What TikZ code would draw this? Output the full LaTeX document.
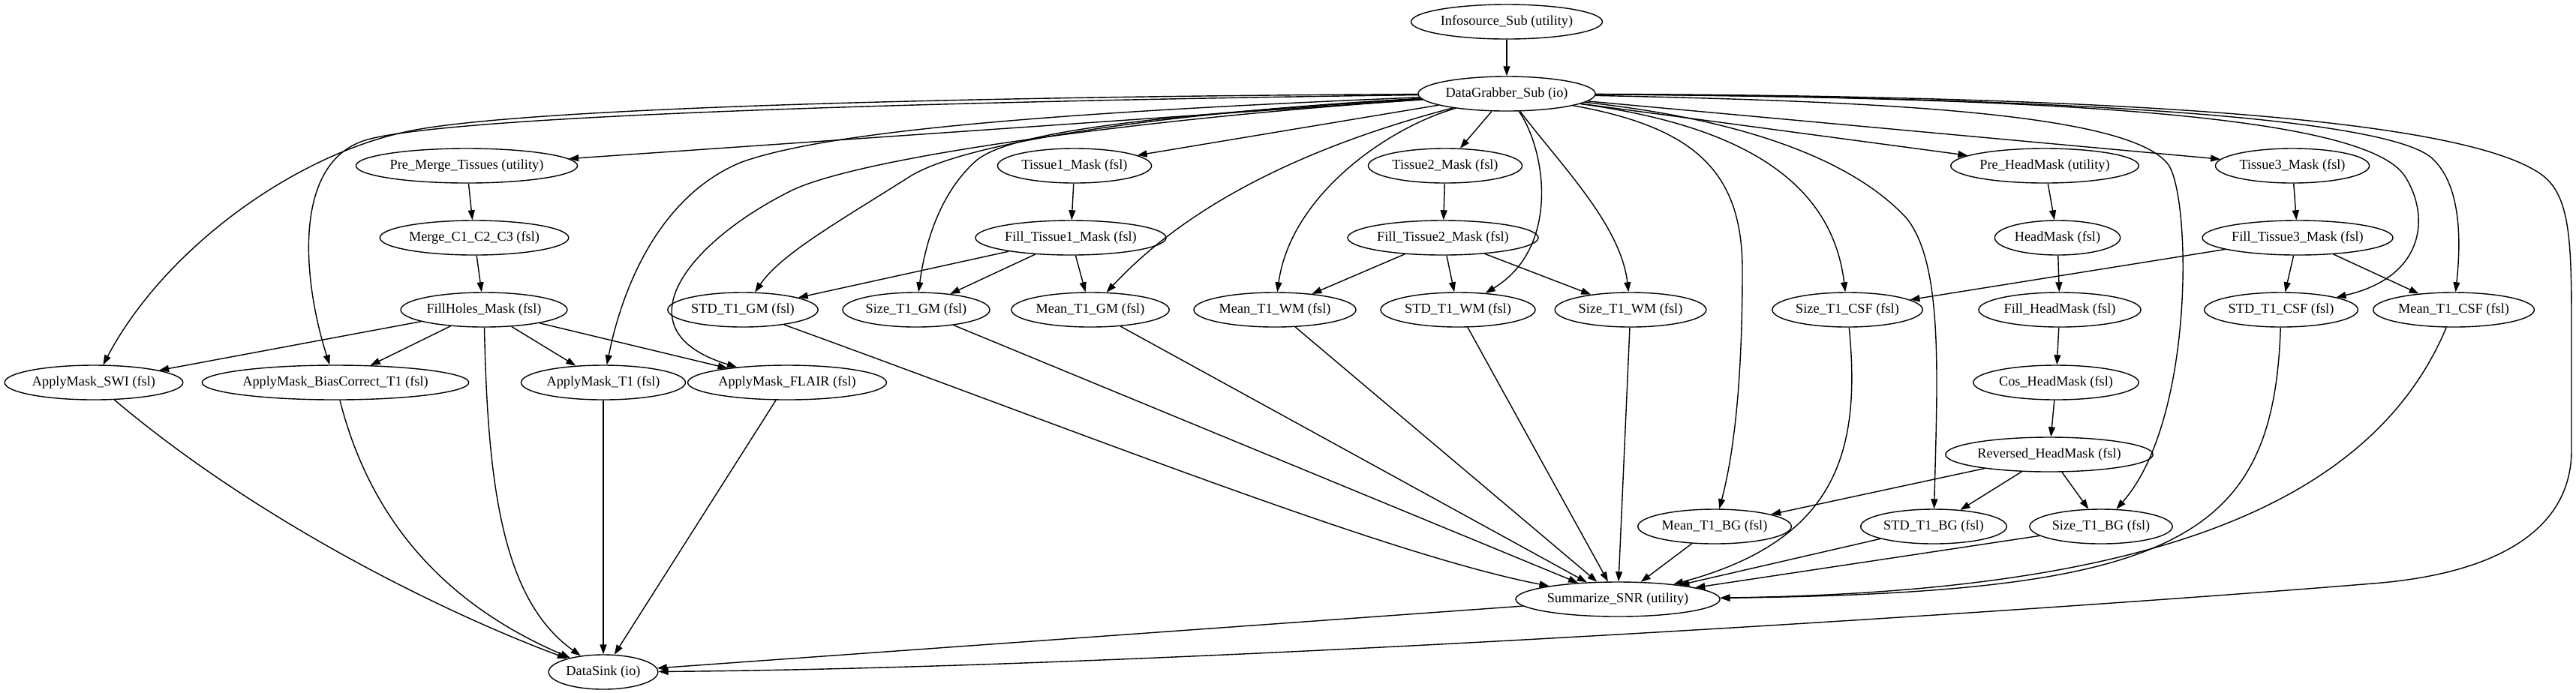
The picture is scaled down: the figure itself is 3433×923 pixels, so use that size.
\documentclass[tikz,border=0pt]{standalone}
\usepackage{fontspec}
\setmainfont{Liberation Serif}
\usetikzlibrary{arrows.meta,shapes.geometric}
\tikzset{
  proc/.style={draw, ellipse, line width=0.4pt, font=\fontsize{5.2}{6.2}\selectfont, minimum height=0.46cm, inner xsep=0.02cm, inner ysep=0pt},
  arr/.style={-{Triangle[length=0.13cm, width=0.09cm]}, line width=0.4pt}}

\begin{document}
\begin{tikzpicture}[x=0.01cm, y=-0.01cm]
  \useasboundingbox (0,0) rectangle (3433,923);
  \node[proc] (info) at (2008,29) {Infosource\_Sub (utility)};
  \node[proc] (dg) at (2008,125) {DataGrabber\_Sub (io)};
  \node[proc] (premerge) at (622,221) {Pre\_Merge\_Tissues (utility)};
  \node[proc] (tis1) at (1432,221) {Tissue1\_Mask (fsl)};
  \node[proc] (tis2) at (1926,221) {Tissue2\_Mask (fsl)};
  \node[proc] (prehead) at (2725,221) {Pre\_HeadMask (utility)};
  \node[proc] (tis3) at (3055,221) {Tissue3\_Mask (fsl)};
  \node[proc] (merge) at (632,317) {Merge\_C1\_C2\_C3 (fsl)};
  \node[proc] (fill1) at (1427,317) {Fill\_Tissue1\_Mask (fsl)};
  \node[proc] (fill2) at (1923,317) {Fill\_Tissue2\_Mask (fsl)};
  \node[proc] (headmask) at (2742,317) {HeadMask (fsl)};
  \node[proc] (fill3) at (3062,317) {Fill\_Tissue3\_Mask (fsl)};
  \node[proc] (fillholes) at (645,413) {FillHoles\_Mask (fsl)};
  \node[proc] (stdgm) at (990,413) {STD\_T1\_GM (fsl)};
  \node[proc] (sizegm) at (1221,413) {Size\_T1\_GM (fsl)};
  \node[proc] (meangm) at (1453,413) {Mean\_T1\_GM (fsl)};
  \node[proc] (meanwm) at (1699,413) {Mean\_T1\_WM (fsl)};
  \node[proc] (stdwm) at (1943,413) {STD\_T1\_WM (fsl)};
  \node[proc] (sizewm) at (2173,413) {Size\_T1\_WM (fsl)};
  \node[proc] (sizecsf) at (2462,413) {Size\_T1\_CSF (fsl)};
  \node[proc] (fillhead) at (2745,413) {Fill\_HeadMask (fsl)};
  \node[proc] (stdcsf) at (3040,413) {STD\_T1\_CSF (fsl)};
  \node[proc] (meancsf) at (3270,413) {Mean\_T1\_CSF (fsl)};
  \node[proc] (swi) at (125,510) {ApplyMask\_SWI (fsl)};
  \node[proc] (bias) at (447,510) {ApplyMask\_BiasCorrect\_T1 (fsl)};
  \node[proc] (amt1) at (804,510) {ApplyMask\_T1 (fsl)};
  \node[proc] (flair) at (1049,510) {ApplyMask\_FLAIR (fsl)};
  \node[proc] (coshead) at (2740,510) {Cos\_HeadMask (fsl)};
  \node[proc] (revhead) at (2731,606) {Reversed\_HeadMask (fsl)};
  \node[proc] (meanbg) at (2285,702) {Mean\_T1\_BG (fsl)};
  \node[proc] (stdbg) at (2577,702) {STD\_T1\_BG (fsl)};
  \node[proc] (sizebg) at (2800,702) {Size\_T1\_BG (fsl)};
  \node[proc] (snr) at (2156,799) {Summarize\_SNR (utility)};
  \node[proc] (sink) at (804,896) {DataSink (io)};

  \draw[arr] (info) -- (dg);
  \draw[arr] (dg) -- (premerge); \draw[arr] (dg) -- (tis1); \draw[arr] (dg) -- (tis2);
  \draw[arr] (dg) -- (prehead); \draw[arr] (dg) -- (tis3);
  \draw[arr] (dg) .. controls (1400,128) and (750,140) .. (560,172) .. controls (400,199) and (220,330) .. (swi);
  \draw[arr] (dg) .. controls (1400,133) and (620,150) .. (490,186) .. controls (386,215) and (405,380) .. (bias);
  \draw[arr] (dg) .. controls (1400,150) and (1100,175) .. (986,217) .. controls (880,262) and (830,380) .. (amt1);
  \draw[arr] (dg) .. controls (1500,160) and (1150,210) .. (1057,253) .. controls (920,320) and (820,440) .. (flair);
  \draw[arr] (dg) .. controls (1550,150) and (1280,190) .. (1210,237) .. controls (1110,300) and (1040,340) .. (stdgm);
  \draw[arr] (dg) .. controls (1600,150) and (1350,170) .. (1300,215) .. controls (1250,260) and (1232,330) .. (sizegm);
  \draw[arr] (dg) .. controls (1780,185) and (1600,255) .. (meangm);
  \draw[arr] (dg) .. controls (1850,170) and (1720,260) .. (meanwm);
  \draw[arr] (dg) .. controls (2060,200) and (2080,330) .. (stdwm);
  \draw[arr] (dg) .. controls (2080,220) and (2160,300) .. (sizewm);
  \draw[arr] (dg) .. controls (2300,165) and (2440,230) .. (sizecsf);
  \draw[arr] (dg) .. controls (2260,170) and (2322,230) .. (2322,360) .. controls (2322,500) and (2312,600) .. (meanbg);
  \draw[arr] (dg) .. controls (2330,160) and (2470,215) .. (2540,290) .. controls (2590,350) and (2582,500) .. (stdbg);
  \draw[arr] (dg) .. controls (2500,135) and (2840,150) .. (2890,220) .. controls (2920,265) and (2925,560) .. (sizebg);
  \draw[arr] (dg) .. controls (2700,130) and (3150,150) .. (3205,235) .. controls (3240,290) and (3230,370) .. (stdcsf);
  \draw[arr] (dg) .. controls (2800,130) and (3180,160) .. (3240,210) .. controls (3280,245) and (3280,320) .. (meancsf);
  \draw[arr] (dg) .. controls (2900,128) and (3300,165) .. (3390,235) .. controls (3427,265) and (3427,330) .. (3427,450) -- (3427,600) .. controls (3427,705) and (3330,765) .. (3162,778) .. controls (2800,808) and (1600,890) .. (sink);

  \draw[arr] (premerge) -- (merge); \draw[arr] (merge) -- (fillholes);
  \draw[arr] (tis1) -- (fill1); \draw[arr] (tis2) -- (fill2); \draw[arr] (tis3) -- (fill3);
  \draw[arr] (prehead) -- (headmask); \draw[arr] (headmask) -- (fillhead);
  \draw[arr] (fillhead) -- (coshead); \draw[arr] (coshead) -- (revhead);
  \draw[arr] (fill1) -- (stdgm); \draw[arr] (fill1) -- (sizegm); \draw[arr] (fill1) -- (meangm);
  \draw[arr] (fill2) -- (meanwm); \draw[arr] (fill2) -- (stdwm); \draw[arr] (fill2) -- (sizewm);
  \draw[arr] (fill3) -- (sizecsf); \draw[arr] (fill3) -- (stdcsf); \draw[arr] (fill3) -- (meancsf);
  \draw[arr] (revhead) -- (meanbg); \draw[arr] (revhead) -- (stdbg); \draw[arr] (revhead) -- (sizebg);
  \draw[arr] (fillholes) -- (swi); \draw[arr] (fillholes) -- (bias);
  \draw[arr] (fillholes) -- (amt1); \draw[arr] (fillholes) -- (flair);

  \draw[arr] (stdgm) .. controls (1450,580) and (1850,740) .. (snr);
  \draw[arr] (sizegm) -- (snr); \draw[arr] (meangm) -- (snr); \draw[arr] (meanwm) -- (snr);
  \draw[arr] (stdwm) -- (snr); \draw[arr] (sizewm) -- (snr);
  \draw[arr] (meanbg) -- (snr); \draw[arr] (stdbg) -- (snr); \draw[arr] (sizebg) -- (snr);
  \draw[arr] (sizecsf) .. controls (2480,600) and (2450,720) .. (snr);
  \draw[arr] (stdcsf) .. controls (3030,720) and (2900,790) .. (snr);
  \draw[arr] (meancsf) .. controls (3150,700) and (2800,790) .. (snr);

  \draw[arr] (snr) -- (sink);
  \draw[arr] (fillholes) .. controls (650,650) and (670,800) .. (sink);
  \draw[arr] (swi) .. controls (350,700) and (600,820) .. (sink);
  \draw[arr] (bias) .. controls (490,680) and (580,800) .. (sink);
  \draw[arr] (amt1) -- (sink); \draw[arr] (flair) -- (sink);
\end{tikzpicture}
\end{document}
